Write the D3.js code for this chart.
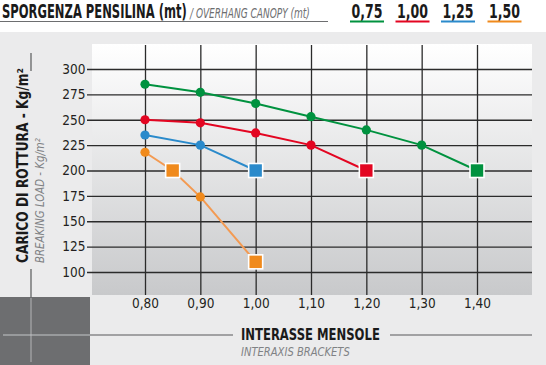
<!DOCTYPE html>
<html><head><meta charset="utf-8">
<script src="https://cdn.jsdelivr.net/npm/d3@7"></script>
<style>
html,body{margin:0;padding:0;background:#fff;}
svg{display:block;}
text{font-family:"DejaVu Sans Condensed","DejaVu Sans",sans-serif;}
</style></head>
<body>
<svg id="c" width="546" height="365"></svg>
<script>
const xTicks = [0.80, 0.90, 1.00, 1.10, 1.20, 1.30, 1.40];
const xTickLabels = ["0,80", "0,90", "1,00", "1,10", "1,20", "1,30", "1,40"];
const yTicks = [100, 125, 150, 175, 200, 225, 250, 275, 300];
const seriesNames = ["0,75", "1,00", "1,25", "1,50"];
const seriesColors = ["#00923f", "#e30521", "#2a8acb", "#f08a1c"];
const lineColors = ["#00923f", "#e30521", "#2a8acb", "#f39a52"];
const s075x = [0.80, 0.90, 1.00, 1.10, 1.20, 1.30, 1.40];
const s075y = [285, 277, 266, 253, 240, 225, 200];
const s100x = [0.80, 0.90, 1.00, 1.10, 1.20];
const s100y = [250, 247, 237, 225, 200];
const s125x = [0.80, 0.90, 1.00];
const s125y = [235, 225, 200];
const s150x = [0.80, 0.85, 0.90, 1.00];
const s150y = [218, 200, 174, 110];
const s075sq = [false, false, false, false, false, false, true];
const s100sq = [false, false, false, false, true];
const s125sq = [false, false, true];
const s150sq = [false, true, false, true];

const series = [
  {x: s075x, y: s075y, sq: s075sq},
  {x: s100x, y: s100y, sq: s100sq},
  {x: s125x, y: s125y, sq: s125sq},
  {x: s150x, y: s150y, sq: s150sq}
];

const svg = d3.select("#c");
const W = 546, H = 365;
const plot = {l: 92, r: 532, t: 44, b: 295};
const x = d3.scaleLinear().domain([0.8, 1.4]).range([145, 477]);
const y = d3.scaleLinear().domain([100, 300]).range([272, 69]);

// place a text at (tx,ty), optionally rotated, horizontally scaled to a target length
function placeText(sel, tx, ty, len, rot) {
  const nat = sel.node().getComputedTextLength();
  const sx = len / nat;
  sel.attr("x", 0).attr("y", 0)
    .attr("transform", `translate(${tx},${ty})${rot ? ` rotate(${rot})` : ""} scale(${sx},1)`);
  return sel;
}

// backgrounds
svg.append("rect").attr("x", 0).attr("y", 0).attr("width", W).attr("height", H).attr("fill", "#fff");
svg.append("rect").attr("x", 0).attr("y", 32).attr("width", W).attr("height", H - 32).attr("fill", "#ebebec");
const defs = svg.append("defs");
const grad = defs.append("linearGradient").attr("id", "pg").attr("x1", 0).attr("y1", 0).attr("x2", 0).attr("y2", 1);
grad.append("stop").attr("offset", "0%").attr("stop-color", "#ffffff");
grad.append("stop").attr("offset", "100%").attr("stop-color", "#c8c9cb");
svg.append("rect").attr("x", plot.l).attr("y", plot.t).attr("width", plot.r - plot.l).attr("height", plot.b - plot.t).attr("fill", "url(#pg)");

// dark box bottom-left
svg.append("rect").attr("x", 0).attr("y", 297).attr("width", 90).attr("height", 68).attr("fill", "#6d6e70");
svg.append("line").attr("x1", 31).attr("x2", 31).attr("y1", 298).attr("y2", 362).attr("stroke", "#a9aaac").attr("stroke-width", 1.2);
svg.append("line").attr("x1", 3).attr("x2", 90).attr("y1", 335).attr("y2", 335).attr("stroke", "#c4c5c7").attr("stroke-width", 1.2);

// decorative lines
svg.append("line").attr("x1", 31).attr("x2", 31).attr("y1", 53).attr("y2", 71).attr("stroke", "#58595b").attr("stroke-width", 1.2);
svg.append("line").attr("x1", 31).attr("x2", 31).attr("y1", 269).attr("y2", 297).attr("stroke", "#58595b").attr("stroke-width", 1.2);
svg.append("line").attr("x1", 90).attr("x2", 233).attr("y1", 335).attr("y2", 335).attr("stroke", "#58595b").attr("stroke-width", 1.2);
svg.append("line").attr("x1", 390).attr("x2", 532).attr("y1", 335).attr("y2", 335).attr("stroke", "#58595b").attr("stroke-width", 1.2);

// grid via axes
const yAxis = d3.axisLeft(y).tickValues(yTicks).tickSize(-(plot.r - 87)).tickPadding(2).tickFormat(d3.format("d"));
const gy = svg.append("g").attr("transform", "translate(87,0)").call(yAxis);
gy.select(".domain").remove();
gy.selectAll(".tick line").attr("stroke", "#2b2b2b").attr("stroke-width", 1.3);
gy.selectAll(".tick text").attr("font-family", "'Open Sans', sans-serif").attr("font-size", 13.5).attr("fill", "#231f20").attr("dx", "0.5");

const xAxis = d3.axisBottom(x).tickValues(xTicks).tickSize(-(plot.b - plot.t - 1)).tickSizeOuter(0).tickPadding(6)
  .tickFormat((d, i) => xTickLabels[i]);
const gx = svg.append("g").attr("transform", `translate(0,${plot.b})`).call(xAxis);
gx.select(".domain").remove();
gx.selectAll(".tick line").attr("stroke", "#2b2b2b").attr("stroke-width", 1.3);
gx.selectAll(".tick text").attr("font-family", "'Open Sans', sans-serif").attr("font-size", 13.5).attr("fill", "#231f20").attr("dy", "0.55em");

// lines & markers
const line = d3.line().x(d => x(d[0])).y(d => y(d[1]));
series.forEach((s, si) => {
  const pts = s.x.map((xv, i) => [xv, s.y[i], s.sq[i]]);
  svg.append("path").datum(pts).attr("d", line).attr("fill", "none")
    .attr("stroke", lineColors[si]).attr("stroke-width", 2);
});
series.forEach((s, si) => {
  const pts = s.x.map((xv, i) => [xv, s.y[i], s.sq[i]]);
  svg.selectAll(null).data(pts.filter(p => !p[2])).enter().append("circle")
    .attr("cx", d => x(d[0])).attr("cy", d => y(d[1])).attr("r", 4.6).attr("fill", seriesColors[si]);
  const sz = 14;
  svg.selectAll(null).data(pts.filter(p => p[2])).enter().append("rect")
    .attr("x", d => x(d[0]) - sz / 2).attr("y", d => y(d[1]) - sz / 2)
    .attr("width", sz).attr("height", sz).attr("fill", seriesColors[si])
    .attr("stroke", "#fff").attr("stroke-width", 1.6);
});

// header
placeText(svg.append("text").attr("font-size", 19).attr("font-weight", "bold").attr("fill", "#1a1a1a")
  .text("SPORGENZA PENSILINA (mt)"), 2, 18, 185);
placeText(svg.append("text").attr("font-size", 14).attr("font-style", "italic").attr("fill", "#6d6e70")
  .text("/ OVERHANG CANOPY  (mt)"), 190, 18, 120);
svg.append("line").attr("x1", 0).attr("x2", 328).attr("y1", 21.5).attr("y2", 21.5).attr("stroke", "#6d6e70").attr("stroke-width", 1);

const legX = [367, 412.5, 458, 504.5];
seriesNames.forEach((n, i) => {
  placeText(svg.append("text").attr("font-size", 19)
    .attr("font-weight", "bold").attr("fill", "#1a1a1a").text(n), legX[i] - 15.5, 18, 31);
  svg.append("line").attr("x1", legX[i] - 17).attr("x2", legX[i] + 17).attr("y1", 21.5).attr("y2", 21.5)
    .attr("stroke", seriesColors[i]).attr("stroke-width", 2);
});

// y title
placeText(svg.append("text").attr("font-size", 16).attr("font-weight", "bold")
  .attr("fill", "#1a1a1a").text("CARICO DI ROTTURA - Kg/m²"), 28, 263, 195, -90);
placeText(svg.append("text").attr("font-size", 13).attr("font-style", "italic")
  .attr("fill", "#808285").text("BREAKING LOAD - Kg/m²"), 44, 263, 125, -90);

// x title
placeText(svg.append("text").attr("font-size", 16).attr("font-weight", "bold")
  .attr("fill", "#1a1a1a").text("INTERASSE MENSOLE"), 241, 340, 139);
placeText(svg.append("text").attr("font-size", 13).attr("font-style", "italic")
  .attr("fill", "#808285").text("INTERAXIS BRACKETS"), 241, 356, 109);
</script>
</body></html>
